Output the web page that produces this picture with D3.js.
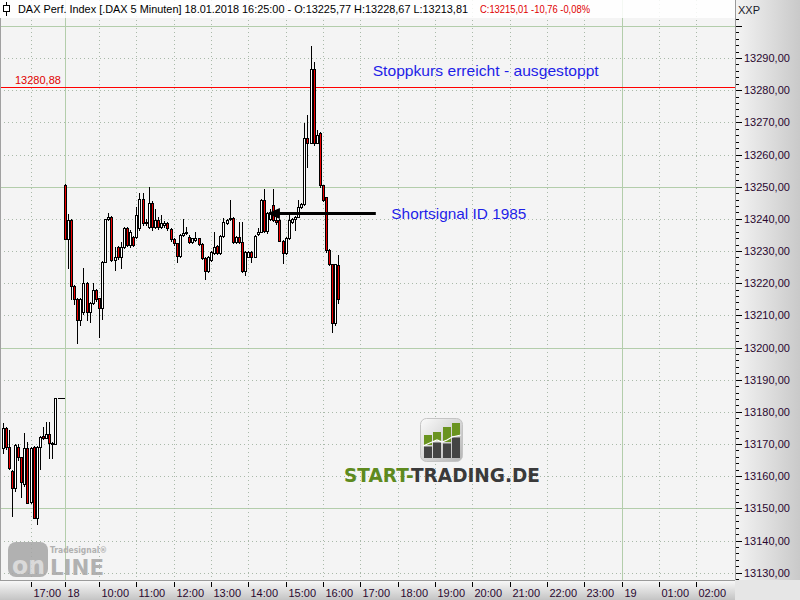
<!DOCTYPE html>
<html><head><meta charset="utf-8">
<script src="https://cdn.jsdelivr.net/npm/d3@7"></script>
<style>html,body{margin:0;padding:0;background:#fff;}svg{display:block;font-family:"Liberation Sans",Arial,sans-serif;}</style>
</head><body><svg id="c" width="800" height="600"></svg>
<script>
// ---------------- data ----------------
const day17Times = ["16:15","16:20","16:25","16:30","16:35","16:40","16:45","16:50","16:55","17:00","17:05","17:10","17:15","17:20","17:25","17:30","17:35","17:40","17:45","17:50"];
const day17Open  = [13168.7,13175.1,13169.2,13161.6,13156.2,13169.2,13165.9,13157.6,13168.7,13152.1,13169.2,13147.1,13169.2,13172.5,13172.0,13173.0,13169.9,13169.9,13184.2,13184.2];
const day17High  = [13176.6,13175.4,13174.4,13161.8,13170.0,13169.9,13166.0,13173.3,13170.6,13169.0,13169.5,13169.4,13172.5,13175.4,13176.9,13176.9,13170.5,13184.2,13184.2,13184.2];
const day17Low   = [13167.3,13168.5,13162.2,13147.7,13155.5,13165.0,13153.6,13157.0,13151.6,13151.8,13147.1,13145.0,13162.2,13171.5,13171.8,13165.6,13165.6,13169.9,13184.2,13184.2];
const day17Close = [13175.1,13169.2,13162.4,13156.2,13169.6,13166.1,13158.3,13168.7,13151.6,13168.7,13147.1,13169.2,13172.3,13171.8,13173.0,13170.2,13170.2,13184.2,13184.2,13184.2];

const day18Times = ["09:05","09:10","09:15","09:20","09:25","09:30","09:35","09:40","09:45","09:50","09:55","10:00",
"10:05","10:10","10:15","10:20","10:25","10:30","10:35","10:40","10:45","10:50","10:55","11:00",
"11:05","11:10","11:15","11:20","11:25","11:30","11:35","11:40","11:45","11:50","11:55","12:00",
"12:05","12:10","12:15","12:20","12:25","12:30","12:35","12:40","12:45","12:50","12:55","13:00",
"13:05","13:10","13:15","13:20","13:25","13:30","13:35","13:40","13:45","13:50","13:55","14:00",
"14:05","14:10","14:15","14:20","14:25","14:30","14:35","14:40","14:45","14:50","14:55","15:00",
"15:05","15:10","15:15","15:20","15:25","15:30","15:35","15:40","15:45","15:50","15:55","16:00",
"16:05","16:10","16:15","16:20","16:25"];
const day18Open = [13250.5,13233.6,13239.6,13219.1,13215.0,13208.6,13211.1,13220.2,13211.1,13213.7,13217.9,13215.3,
13212.2,13226.7,13239.8,13240.7,13227.2,13231.4,13228.0,13231.4,13237.1,13231.9,13234.5,13234.5,
13237.0,13246.2,13238.6,13237.6,13244.8,13237.6,13239.6,13237.4,13238.0,13238.6,13236.7,13233.6,
13232.4,13228.5,13235.0,13235.5,13234.5,13232.9,13233.4,13233.9,13232.2,13227.7,13223.9,13227.2,
13229.5,13231.6,13229.3,13234.7,13238.6,13239.9,13240.2,13232.9,13234.5,13232.9,13223.9,13228.2,
13229.8,13228.2,13235.3,13236.0,13245.9,13236.3,13240.0,13244.3,13239.6,13239.6,13233.2,13229.5,
13234.0,13239.1,13239.9,13240.7,13243.8,13244.6,13265.0,13263.7,13286.5,13263.7,13266.8,13250.5,
13246.7,13230.3,13225.9,13207.5,13225.77];
const day18High = [13250.8,13241.4,13239.9,13219.4,13215.3,13215.5,13224.6,13220.5,13214.0,13220.2,13218.2,13215.5,
13226.9,13240.0,13241.7,13241.0,13231.4,13231.6,13232.9,13237.5,13237.5,13236.5,13234.8,13243.6,
13247.9,13248.1,13240.0,13250.0,13245.5,13243.0,13240.5,13241.2,13239.2,13239.0,13237.0,13234.0,
13232.6,13235.2,13239.9,13237.6,13235.0,13234.2,13236.0,13234.2,13232.4,13228.0,13228.3,13230.1,
13236.0,13231.8,13235.0,13240.2,13240.0,13245.9,13240.5,13234.8,13239.1,13239.1,13230.0,13230.0,
13230.0,13235.0,13237.0,13246.2,13249.2,13242.0,13243.0,13249.2,13241.0,13240.0,13233.5,13234.3,
13241.7,13240.2,13241.0,13245.9,13245.0,13269.7,13272.3,13293.8,13288.7,13267.5,13267.0,13250.5,
13246.9,13230.5,13226.0,13226.0,13228.67];
const day18Low = [13233.6,13224.6,13215.0,13213.5,13201.5,13207.0,13210.5,13208.6,13208.0,13213.5,13214.5,13203.4,
13209.0,13226.5,13239.5,13227.0,13224.1,13227.5,13224.6,13231.0,13231.5,13231.4,13231.5,13234.0,
13236.5,13238.0,13238.0,13237.0,13236.5,13237.0,13236.8,13237.0,13237.5,13236.5,13233.0,13232.0,
13226.7,13228.2,13234.8,13235.2,13232.5,13232.5,13233.0,13231.8,13227.4,13221.2,13223.5,13226.8,
13229.0,13229.0,13229.0,13234.5,13238.3,13239.6,13232.6,13232.6,13232.6,13223.6,13222.5,13228.0,
13226.5,13228.0,13235.0,13235.8,13236.0,13235.7,13239.5,13239.3,13238.5,13233.0,13226.2,13229.2,
13233.8,13238.8,13236.5,13240.5,13243.5,13244.3,13256.2,13263.5,13262.8,13263.5,13250.0,13245.5,
13229.8,13225.5,13204.7,13207.0,13213.81];
const day18Close = [13233.6,13239.6,13219.1,13215.0,13208.6,13215.0,13220.2,13211.1,13213.7,13217.9,13215.0,13212.2,
13226.7,13239.8,13240.7,13227.2,13228.0,13228.0,13231.4,13237.1,13231.9,13236.0,13231.9,13241.2,
13246.2,13238.6,13239.1,13244.8,13237.6,13239.6,13237.6,13238.6,13238.6,13237.1,13233.6,13232.4,
13228.5,13235.0,13235.7,13236.0,13232.9,13233.9,13233.9,13232.2,13227.7,13223.9,13228.0,13229.8,
13231.4,13229.5,13234.7,13239.1,13239.6,13240.2,13232.9,13234.5,13232.9,13223.9,13229.8,13229.8,
13228.2,13234.7,13236.0,13245.9,13236.3,13241.7,13242.2,13239.6,13239.0,13233.2,13229.5,13234.0,
13239.6,13239.9,13240.7,13243.8,13244.6,13265.0,13263.7,13286.5,13263.7,13266.0,13250.5,13245.9,
13230.3,13225.9,13207.5,13225.9,13215.01];

const xTickDays   = [17,18,18,18,18,18,18,18,18,18,18,18,18,18,18,18,19,19,19];
const xTickTimes  = ["17:00","09:05","10:00","11:00","12:00","13:00","14:00","15:00","16:00","17:00","18:00","19:00","20:00","21:00","22:00","23:00","00:00","01:00","02:00"];
const xTickLabels = ["17:00","18","10:00","11:00","12:00","13:00","14:00","15:00","16:00","17:00","18:00","19:00","20:00","21:00","22:00","23:00","19","01:00","02:00"];
const yTickValues = [13130,13140,13150,13160,13170,13180,13190,13200,13210,13220,13230,13240,13250,13260,13270,13280,13290];

const stopLevel = 13280.88;
const signalLevel = 13241.8;
const titleBlack = "DAX Perf. Index [.DAX  5 Minuten] 18.01.2018 16:25:00 - O:13225,77 H:13228,67 L:13213,81";
const titleRed = "C:13215,01 -10,76 -0,08%";

// ---------------- setup ----------------
const svg = d3.select("#c");
const PR = 735, PB = 580;
const defs = svg.append("defs");
const gR = defs.append("linearGradient").attr("id","gr").attr("x1","0").attr("x2","1").attr("y1","0").attr("y2","0");
gR.append("stop").attr("offset","0").attr("stop-color","#f4f4f4");
gR.append("stop").attr("offset","1").attr("stop-color","#c9c9c9");
const gB = defs.append("linearGradient").attr("id","gb").attr("x1","0").attr("x2","0").attr("y1","0").attr("y2","1");
gB.append("stop").attr("offset","0").attr("stop-color","#fafafa");
gB.append("stop").attr("offset","1").attr("stop-color","#c4c4c4");
const gL = defs.append("linearGradient").attr("id","gl").attr("x1","0").attr("x2","1").attr("y1","0").attr("y2","1");
gL.append("stop").attr("offset","0").attr("stop-color","#fbfbfb");
gL.append("stop").attr("offset","1").attr("stop-color","#b4b4b4");
defs.append("clipPath").attr("id","clip").append("rect").attr("x",0).attr("y",0).attr("width",PR).attr("height",PB);

function mins(t){const p=t.split(":").map(Number);return p[0]*60+p[1];}
function slot(day,t){ if(day===17) return (mins(t)-(17*60+50))/5; return ((day-18)*1440+mins(t)-540)/5; }
const x = d3.scaleLinear().domain([0,180]).range([61.7,621.5]);
const y = d3.scaleLinear().domain([13130,13290]).range([572.7,58]);
const fmt = v => d3.format(".2f")(v).replace(".",",");

// backgrounds
svg.append("rect").attr("x",0).attr("y",0).attr("width",PR).attr("height",PB).attr("fill","#f4f4f4");
svg.append("rect").attr("x",PR).attr("y",0).attr("width",800-PR).attr("height",600).attr("fill","url(#gr)");
svg.append("rect").attr("x",0).attr("y",PB).attr("width",PR).attr("height",600-PB).attr("fill","url(#gb)");
svg.append("rect").attr("x",PR).attr("y",PB).attr("width",800-PR).attr("height",600-PB).attr("fill","#e6e6e6");

const plot = svg.append("g").attr("clip-path","url(#clip)");

// horizontal grid
d3.range(13130, 13301, 10).forEach(v=>{
  const yy = Math.round(y(v))+0.5;
  const solid = v%50===0;
  plot.append("line").attr("x1",0).attr("x2",PR).attr("y1",yy).attr("y2",yy)
    .attr("stroke", solid?"#b3cdab":"#a9b9a9").attr("stroke-width",1).attr("shape-rendering","crispEdges")
    .attr("stroke-dasharray", solid?null:"1,3");
});
// vertical grid
xTickTimes.forEach((t,i)=>{
  const xx = Math.round(x(slot(xTickDays[i],t)))+0.5;
  const solid = !xTickLabels[i].includes(":");
  plot.append("line").attr("x1",xx).attr("x2",xx).attr("y1",0).attr("y2",PB).attr("shape-rendering","crispEdges")
    .attr("stroke", solid?"#b3cdab":"#a9b9a9").attr("stroke-dasharray", solid?null:"1,3");
});

// logos (watermarks)
(function(){
  const lg = plot.append("g");
  lg.append("rect").attr("x",420.5).attr("y",418.5).attr("width",42).attr("height",43).attr("rx",6)
    .attr("fill","url(#gl)").attr("stroke","#c4c4c4");
  const bx=[424,433,443,452], gt=[435,432,427,423], dt=[445,441,442,436];
  bx.forEach((b,i)=>{
    lg.append("rect").attr("x",b).attr("y",gt[i]).attr("width",8).attr("height",dt[i]-gt[i]).attr("fill","#6a9420");
    lg.append("rect").attr("x",b).attr("y",dt[i]+1.5).attr("width",8).attr("height",458-dt[i]-1.5).attr("fill","#444");
  });
  lg.append("polyline").attr("points","423,446 432,442 437,440 442,442 447,440 452,437 461,435")
    .attr("fill","none").attr("stroke","#ffffff").attr("stroke-width",1.2);
  const t = lg.append("text").attr("x",344).attr("y",482).attr("font-family","DejaVu Sans, sans-serif")
    .attr("font-weight","bold").attr("font-size",19).attr("textLength",196).attr("lengthAdjust","spacingAndGlyphs");
  t.append("tspan").attr("fill","#5e8a1e").text("START-");
  t.append("tspan").attr("fill","#3a3a3a").text("TRADING.DE");

  const tg = plot.append("g").attr("opacity",0.85);
  tg.append("rect").attr("x",8).attr("y",542).attr("width",40).attr("height",35).attr("rx",8).attr("fill","#a6a6a6");
  tg.append("text").attr("x",12).attr("y",574).attr("font-family","DejaVu Sans, sans-serif").attr("font-weight","bold")
    .attr("font-size",24).attr("fill","#d6d6d6").attr("textLength",33).attr("lengthAdjust","spacingAndGlyphs").text("on");
  tg.append("text").attr("x",50).attr("y",575).attr("font-family","DejaVu Sans, sans-serif").attr("font-weight","bold")
    .attr("font-size",21).attr("fill","#a6a6a6").attr("textLength",54).attr("lengthAdjust","spacingAndGlyphs").text("LINE");
  tg.append("text").attr("x",50).attr("y",553).attr("font-family","DejaVu Sans, sans-serif").attr("font-weight","bold")
    .attr("font-size",8.5).attr("fill","#a6a6a6").attr("textLength",57).attr("lengthAdjust","spacingAndGlyphs").text("Tradesignal®");
})();

// stop line (drawn as a 1px filled band)
const ys = Math.round(y(stopLevel));
plot.append("rect").attr("x",0).attr("y",ys).attr("width",PR).attr("height",1)
  .attr("fill","#ff0000").attr("shape-rendering","crispEdges");
plot.append("text").attr("x",15).attr("y",ys-3.5).attr("font-size",11).attr("fill","#e00000").text(fmt(stopLevel));

// candles
const cg = plot.append("g").attr("shape-rendering","crispEdges");
function drawCandles(day,T,O,Hh,L,C){
  T.forEach((t,i)=>{
    const cx = Math.round(x(slot(day,t)));
    const o=y(O[i]), c=y(C[i]), h=y(Hh[i]), l=y(L[i]);
    cg.append("line").attr("x1",cx+0.5).attr("x2",cx+0.5).attr("y1",Math.round(h)).attr("y2",Math.round(l)+1)
      .attr("stroke","#000");
    const top=Math.round(Math.min(o,c)), bot=Math.round(Math.max(o,c));
    if(bot-top<1){
      cg.append("line").attr("x1",cx-1).attr("x2",cx+3).attr("y1",top+0.5).attr("y2",top+0.5).attr("stroke","#000");
    } else {
      cg.append("rect").attr("x",cx-0.5).attr("y",top+0.5).attr("width",2).attr("height",bot-top)
        .attr("fill", C[i]<O[i] ? "#ee0000" : "#ffffff").attr("stroke","#000");
    }
  });
}
drawCandles(17,day17Times,day17Open,day17High,day17Low,day17Close);
drawCandles(18,day18Times,day18Open,day18High,day18Low,day18Close);

// signal arrow
const ya = Math.round(y(signalLevel));
const xa0 = x(slot(18,"14:30")), xa1 = x(slot(18,"17:25"));
plot.append("rect").attr("x",xa0+6).attr("y",ya-1).attr("width",xa1-xa0-6).attr("height",3).attr("fill","#000");
plot.append("path").attr("d",`M${xa0},${ya+0.5} L${xa0+13},${ya-5} L${xa0+13},${ya+6} Z`).attr("fill","#000");

// annotation texts
plot.append("text").attr("x",x(slot(18,"17:20"))).attr("y",y(13284.4)).attr("font-size",15).attr("fill","#1e1ee8")
  .attr("textLength",226).attr("lengthAdjust","spacingAndGlyphs").text("Stoppkurs erreicht - ausgestoppt");
plot.append("text").attr("x",x(slot(18,"17:50"))).attr("y",y(13240.0)).attr("font-size",15).attr("fill","#1e1ee8")
  .attr("textLength",135).attr("lengthAdjust","spacingAndGlyphs").text("Shortsignal ID 1985");

// header
svg.append("rect").attr("x",0).attr("y",0).attr("width",PR).attr("height",18).attr("fill","#ffffff").attr("opacity",0.85);
const ic = svg.append("g").attr("shape-rendering","crispEdges");
ic.append("line").attr("x1",6.5).attr("x2",6.5).attr("y1",2).attr("y2",16).attr("stroke","#000");
ic.append("rect").attr("x",3.5).attr("y",5.5).attr("width",6).attr("height",6).attr("fill","#fff").attr("stroke","#000");
svg.append("text").attr("x",18).attr("y",13).attr("font-size",11.5).attr("fill","#000")
  .attr("textLength",450).attr("lengthAdjust","spacingAndGlyphs").text(titleBlack);
svg.append("text").attr("x",480).attr("y",13).attr("font-size",11.5).attr("fill","#e00000")
  .attr("textLength",110).attr("lengthAdjust","spacingAndGlyphs").text(titleRed);

// borders
svg.append("line").attr("x1",PR+0.5).attr("x2",PR+0.5).attr("y1",0).attr("y2",PB).attr("stroke","#9a9a9a");
svg.append("line").attr("x1",0).attr("x2",PR).attr("y1",PB+0.5).attr("y2",PB+0.5).attr("stroke","#9a9a9a");
svg.append("line").attr("x1",0.5).attr("x2",0.5).attr("y1",18).attr("y2",PB).attr("stroke","#a0a0a0");

// right axis
const ax = svg.append("g");
d3.range(13128, 13303, 2).forEach(v=>{
  const yy=Math.round(y(v))+0.5; if(yy<16||yy>PB) return;
  const major = v%10===0;
  ax.append("line").attr("x1",PR+1).attr("x2",PR+(major?7:4)).attr("y1",yy).attr("y2",yy).attr("stroke","#000")
    .attr("shape-rendering","crispEdges");
});
yTickValues.forEach(v=>{
  ax.append("text").attr("x",744).attr("y",y(v)+4).attr("font-size",11).attr("fill","#2a0830").text(fmt(v));
});
ax.append("text").attr("x",738).attr("y",14).attr("font-size",11).attr("fill","#1a1a2a").text("XXP");

// bottom axis
xTickTimes.forEach((t,i)=>{
  const xx = Math.round(x(slot(xTickDays[i],t)))+0.5;
  ax.append("line").attr("x1",xx).attr("x2",xx).attr("y1",PB+2).attr("y2",PB+7).attr("stroke","#000")
    .attr("shape-rendering","crispEdges");
  ax.append("text").attr("x",xx+2).attr("y",597).attr("font-size",11).attr("fill","#2a0830").text(xTickLabels[i]);
});
</script></body></html>
